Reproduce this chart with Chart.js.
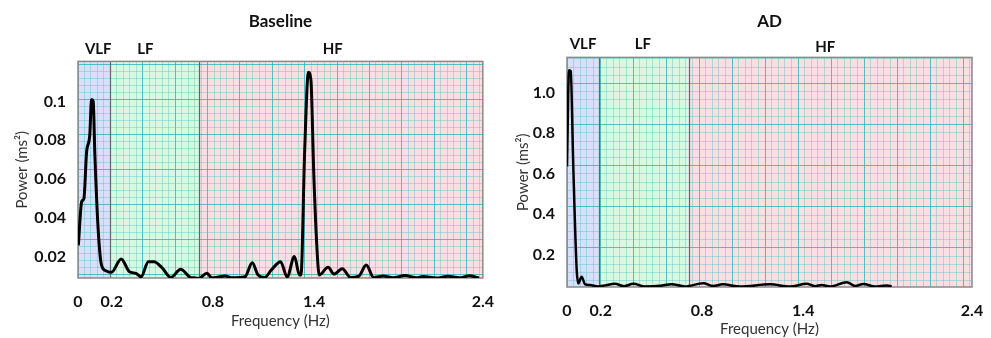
<!DOCTYPE html>
<html>
<head>
<meta charset="utf-8">
<script src="https://cdn.jsdelivr.net/npm/chart.js@4.4.1/dist/chart.umd.min.js"></script>
<style>
  body { margin: 0; background: #fff; }
  #wrap { position: relative; width: 991px; height: 338px; overflow: hidden; }
  #baseline { position: absolute; left: 0; top: 0; }
  #ad { position: absolute; left: 500px; top: 0; }
</style>
</head>
<body>
<div id="wrap">
  <canvas id="baseline" width="500" height="338"></canvas>
  <canvas id="ad" width="491" height="338"></canvas>
</div>
<script>
// spectrum (Hz, ms^2)
const baseFreq = [0.002, 0.022, 0.035, 0.051, 0.070, 0.080, 0.090, 0.100, 0.119, 0.139, 0.168, 0.198,
  0.256, 0.305, 0.344, 0.374, 0.417, 0.452, 0.501, 0.550, 0.609, 0.667, 0.716, 0.765, 0.794, 0.873,
  0.911, 0.990, 1.033, 1.068, 1.107, 1.146, 1.201, 1.240, 1.283, 1.313, 1.322, 1.344, 1.366, 1.381,
  1.397, 1.414, 1.430, 1.483, 1.518, 1.567, 1.615, 1.665, 1.709, 1.753, 1.811, 1.870, 1.938, 2.007,
  2.046, 2.124, 2.193, 2.261, 2.320, 2.378];
const basePower = [0.026, 0.0485, 0.050, 0.074, 0.083, 0.101, 0.100, 0.0726, 0.035, 0.016, 0.0128, 0.0121,
  0.019, 0.0124, 0.0116, 0.0098, 0.0176, 0.0175, 0.0142, 0.0095, 0.0137, 0.0095, 0.009, 0.0116, 0.0093, 0.0102,
  0.0093, 0.0098, 0.017, 0.0107, 0.0095, 0.0133, 0.0176, 0.0098, 0.0202, 0.0107, 0.0107, 0.075, 0.115, 0.111,
  0.065, 0.0288, 0.0107, 0.0147, 0.0112, 0.014, 0.0095, 0.0102, 0.0159, 0.0095, 0.0102, 0.0093, 0.0105, 0.0093,
  0.0100, 0.0092, 0.0101, 0.0093, 0.0103, 0.0092];

const adFreq = [0.0, 0.012, 0.022, 0.037, 0.057, 0.067, 0.087, 0.107, 0.136, 0.185, 0.225, 0.284, 0.338,
  0.393, 0.462, 0.551, 0.620, 0.699, 0.808, 0.865, 0.923, 1.025, 1.203, 1.321, 1.420, 1.470, 1.509, 1.559,
  1.658, 1.707, 1.756, 1.825, 1.895, 1.924];
const adPower = [0.636, 1.11, 1.105, 0.644, 0.134, 0.06, 0.093, 0.055, 0.052, 0.045, 0.05, 0.058, 0.046,
  0.058, 0.045, 0.048, 0.056, 0.045, 0.06, 0.047, 0.055, 0.044, 0.055, 0.044, 0.058, 0.046, 0.052, 0.044,
  0.066, 0.047, 0.057, 0.044, 0.05, 0.046];

const bandNames = ["VLF", "LF", "HF"];
const bandEdges = [0, 0.19, 0.72, 2.4];
const bandColors = ["#d9def9", "#d8f8e0", "#f9dfe1"];
const baseBandLabelAt = [0.12, 0.40, 1.51];
const adBandLabelAt = [0.095, 0.45, 1.53];

const xTicks = [0, 0.2, 0.8, 1.4, 2.4];
const xTickLabels = ["0", "0.2", "0.8", "1.4", "2.4"];
const baseYTicks = [0.02, 0.04, 0.06, 0.08, 0.1];
const baseYLabels = ["0.02", "0.04", "0.06", "0.08", "0.1"];
const adYTicks = [0.2, 0.4, 0.6, 0.8, 1.0];
const adYLabels = ["0.2", "0.4", "0.6", "0.8", "1.0"];

Chart.defaults.font.family = "Lato, 'Open Sans', sans-serif";
Chart.defaults.color = "#111";

// band backgrounds, band names, borders
const bandPlugin = {
  id: "bands",
  beforeDraw(chart, args, opts) {
    const c = chart.ctx, a = chart.chartArea, x = chart.scales.x;
    c.save();
    for (let i = 0; i < bandNames.length; i++) {
      let x0 = x.getPixelForValue(bandEdges[i]);
      let x1 = x.getPixelForValue(bandEdges[i + 1]);
      c.fillStyle = bandColors[i];
      c.fillRect(x0, a.top, x1 - x0, a.bottom - a.top);
    }
    c.restore();
  },
  beforeDatasetsDraw(chart, args, opts) {
    const c = chart.ctx, a = chart.chartArea, x = chart.scales.x;
    c.save();
    c.strokeStyle = "#666";
    c.lineWidth = 1.2;
    for (let i = 1; i < bandEdges.length - 1; i++) {
      let px = Math.round(x.getPixelForValue(bandEdges[i])) + 0.5;
      c.beginPath();
      c.moveTo(px, a.top);
      c.lineTo(px, a.bottom);
      c.stroke();
    }
    c.strokeStyle = "#8a8a8a";
    c.lineWidth = 1.5;
    c.strokeRect(a.left, a.top, a.right - a.left, a.bottom - a.top);
    c.fillStyle = "#111";
    c.font = "bold 15px Lato, 'Open Sans', sans-serif";
    c.textAlign = "center";
    c.textBaseline = "middle";
    for (let i = 0; i < bandNames.length; i++) {
      c.fillText(bandNames[i], x.getPixelForValue(opts.labelAt[i]), a.top - opts.labelGap[i]);
    }
    c.restore();
  }
};

function gridTicks(scale) {
  let t = [];
  for (let i = Math.ceil(scale.min / 0.2 - 1e-6); i * 0.2 <= scale.max + 1e-6; i++) {
    t.push({ value: i * 0.2 });
  }
  scale.ticks = t;
}

function gridColor(c) {
  let v = c.tick.value;
  return Math.abs(v - Math.round(v)) < 1e-6 ? "rgba(45,180,185,0.8)" : "rgba(75,190,200,0.38)";
}

function makeChart(id, cfg) {
  return new Chart(document.getElementById(id), {
    type: "line",
    data: {
      datasets: [{
        data: cfg.freq.map((f, i) => ({ x: f, y: cfg.power[i] })),
        borderColor: "#000",
        borderWidth: cfg.lineWidth,
        pointRadius: 0,
        cubicInterpolationMode: "monotone",
        fill: false
      }]
    },
    options: {
      responsive: false,
      animation: false,
      layout: { padding: { left: 0, right: cfg.padRight, top: 0, bottom: 0 } },
      plugins: {
        legend: { display: false },
        tooltip: { enabled: false },
        title: {
          display: true,
          text: cfg.title,
          fullSize: false,
          color: "#111",
          font: { size: 17, weight: "bold" },
          padding: { top: 11, bottom: cfg.titlePadBottom }
        },
        bands: { labelAt: cfg.labelAt, labelGap: cfg.labelGap }
      },
      scales: {
        x: {
          type: "linear",
          min: 0,
          max: 2.4,
          grid: { display: false },
          border: { display: false },
          afterBuildTicks: s => { s.ticks = xTicks.map(v => ({ value: v })); },
          afterFit: s => { s.height = cfg.xHeight; },
          ticks: {
            padding: cfg.xTickPad,
            font: { size: 16, weight: "bold" },
            callback: (v, i) => xTickLabels[i]
          },
          title: {
            display: true,
            text: "Frequency (Hz)",
            font: { size: 15 },
            color: "#333",
            padding: { top: 0, bottom: cfg.xTitlePad }
          }
        },
        y: {
          type: "linear",
          min: cfg.yMin,
          max: cfg.yMax,
          grid: { display: false },
          border: { display: false },
          afterBuildTicks: s => { s.ticks = cfg.yTicks.map(v => ({ value: v })); },
          afterFit: s => { s.width = cfg.yWidth; },
          ticks: {
            padding: 4,
            font: { size: 16, weight: "bold" },
            callback: (v, i) => cfg.yLabels[i]
          },
          title: {
            display: true,
            text: "Power (ms²)",
            font: { size: 15 },
            color: "#333",
            padding: { top: cfg.yTitlePad, bottom: 0 }
          }
        },
        gx: {
          type: "linear",
          position: "bottom",
          min: 0,
          max: cfg.gridXMax,
          afterBuildTicks: gridTicks,
          afterFit: s => { s.height = 0; },
          ticks: { display: false },
          border: { display: false },
          grid: { drawTicks: false, color: gridColor, lineWidth: 1 }
        },
        gy: {
          type: "linear",
          position: "left",
          min: cfg.gridYMin,
          max: cfg.gridYMax,
          afterBuildTicks: gridTicks,
          afterFit: s => { s.width = 0; },
          ticks: { display: false },
          border: { display: false },
          grid: { drawTicks: false, color: gridColor, lineWidth: 1 }
        }
      }
    },
    plugins: [bandPlugin]
  });
}

makeChart("baseline", {
  title: "Baseline",
  freq: baseFreq,
  power: basePower,
  lineWidth: 3,
  padRight: 13,
  titlePadBottom: 30,
  xHeight: 60,
  xTickPad: 6,
  xTitlePad: 8,
  yWidth: 78,
  yTitlePad: 13,
  yMin: 0.0092,
  yMax: 0.1206,
  yTicks: baseYTicks,
  yLabels: baseYLabels,
  labelAt: baseBandLabelAt,
  labelGap: [12, 12, 12],
  gridXMax: 12.5,
  gridYMin: -0.086,
  gridYMax: 6.086
});

makeChart("ad", {
  title: "AD",
  freq: adFreq,
  power: adPower,
  lineWidth: 2.5,
  padRight: 19,
  titlePadBottom: 26,
  xHeight: 51,
  xTickPad: 6,
  xTitlePad: 0,
  yWidth: 67,
  yTitlePad: 14,
  yMin: 0.042,
  yMax: 1.173,
  yTicks: adYTicks,
  yLabels: adYLabels,
  labelAt: adBandLabelAt,
  labelGap: [13, 13, 10],
  gridXMax: 12.27,
  gridYMin: 0.049,
  gridYMax: 5.634
});
</script>
</body>
</html>
